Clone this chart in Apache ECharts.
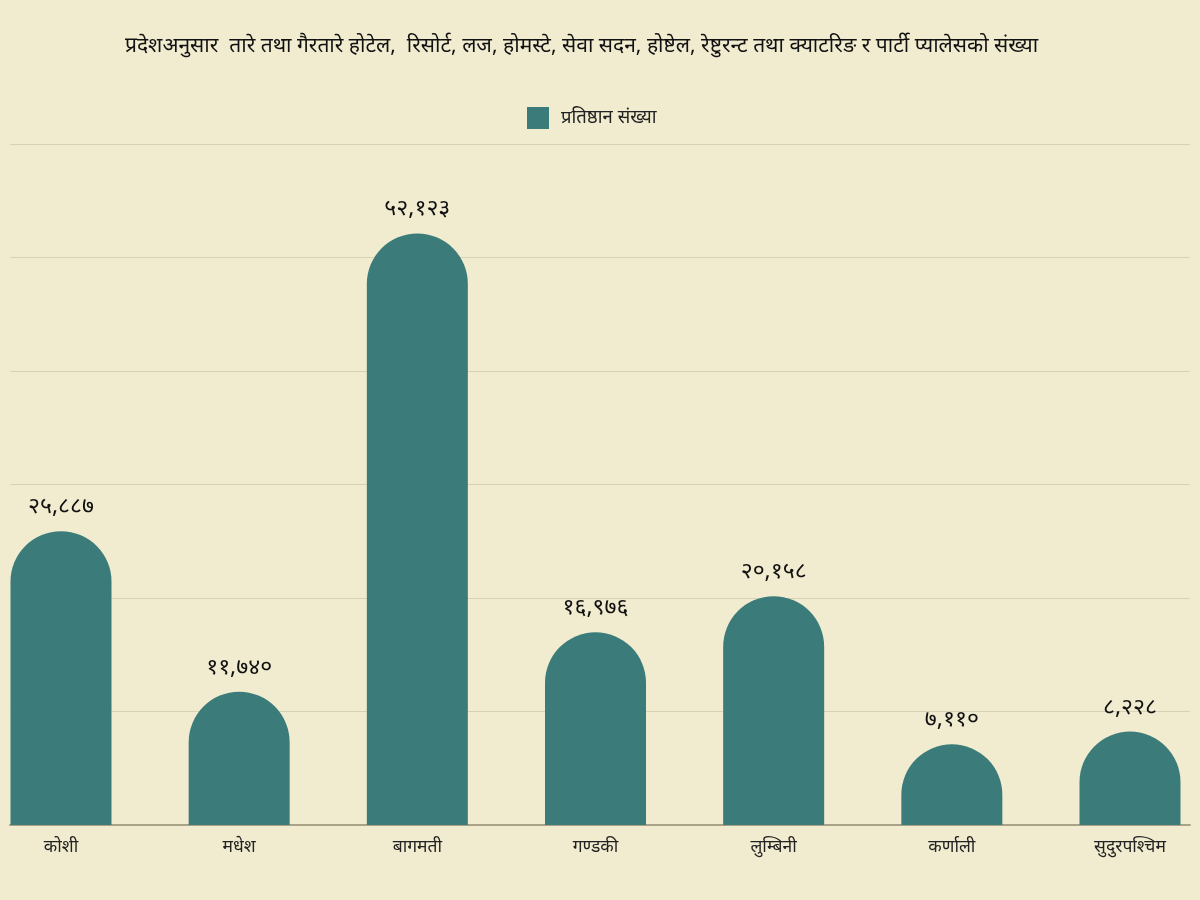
<!DOCTYPE html>
<html><head><meta charset="utf-8">
<script src="https://cdn.jsdelivr.net/npm/echarts@6/dist/echarts.min.js"></script>
<style>html,body{margin:0;padding:0;background:#f1ecd0;}#c{width:1200px;height:900px;}</style>
</head><body><div id="c"></div>
<script>
const titleText = 'प्रदेशअनुसार  तारे तथा गैरतारे होटेल,  रिसोर्ट, लज, होमस्टे, सेवा सदन, होष्टेल, रेष्टुरन्ट तथा क्याटरिङ र पार्टी प्यालेसको संख्या';
const seriesName = 'प्रतिष्ठान संख्या';
const categories = ['कोशी', 'मधेश', 'बागमती', 'गण्डकी', 'लुम्बिनी', 'कर्णाली', 'सुदुरपश्चिम'];
const values = [25887, 11740, 52123, 16976, 20158, 7110, 8228];
const yMax = 60000;
const yInterval = 10000;

const devDigits = '०१२३४५६७८९';
function toDev(n) {
  return n.toLocaleString('en-US').replace(/[0-9]/g, d => devDigits[+d]);
}
const font = "'Noto Sans', 'Noto Sans Devanagari', sans-serif";
const chart = echarts.init(document.getElementById('c'), null, {renderer: 'canvas'});
chart.setOption({
  backgroundColor: '#f1ecd0',
  animation: false,
  title: {
    text: titleText, left: 120, top: 31,
    textStyle: {fontSize: 21, fontWeight: 'normal', color: '#111', fontFamily: font}
  },
  legend: {
    data: [seriesName], top: 102, left: 522,
    itemWidth: 22, itemHeight: 22, itemGap: 10, icon: 'rect',
    textStyle: {fontSize: 18.5, color: '#222', fontFamily: font, padding: [0, 0, 0, 7]}
  },
  grid: [
    {left: 61, right: 70, top: 144, bottom: 75},
    {left: 10, right: 10, top: 144, bottom: 75}
  ],
  xAxis: [
    {
      type: 'category', gridIndex: 0, data: categories, boundaryGap: false,
      axisLine: {show: false}, axisTick: {show: false},
      axisLabel: {fontSize: 17.5, color: '#222', margin: 13, fontFamily: font}
    },
    {
      type: 'value', gridIndex: 1, min: 0, max: 1, show: true,
      axisLine: {show: true, onZero: false, lineStyle: {color: '#a9a286', width: 2}},
      axisTick: {show: false}, axisLabel: {show: false}, splitLine: {show: false}
    }
  ],
  yAxis: [
    {
      type: 'value', gridIndex: 0, min: 0, max: yMax, interval: yInterval,
      axisLine: {show: false}, axisTick: {show: false}, axisLabel: {show: false},
      splitLine: {show: false}
    },
    {
      type: 'value', gridIndex: 1, min: 0, max: yMax, interval: yInterval,
      axisLine: {show: false}, axisTick: {show: false}, axisLabel: {show: false},
      splitLine: {show: true, lineStyle: {color: '#d8d2b4', width: 1}}
    }
  ],
  series: [{
    name: seriesName, type: 'bar', xAxisIndex: 0, yAxisIndex: 0,
    data: values, barWidth: 101,
    itemStyle: {color: '#3b7b79', borderRadius: [51, 51, 0, 0]},
    label: {
      show: true, position: 'top', distance: 13,
      formatter: p => toDev(p.value),
      fontSize: 23, color: '#111', fontFamily: font
    }
  }]
});
</script></body></html>
